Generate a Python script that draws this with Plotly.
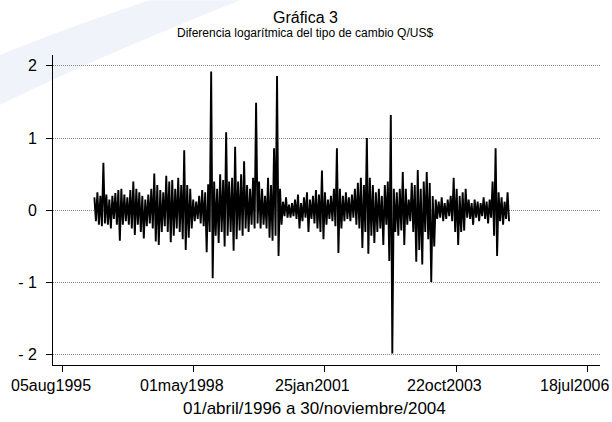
import pandas as pd
import plotly.graph_objects as go

# Envelope of the daily series
upper = [0.18, 0.25, 0.20, 0.66, 0.22, 0.15, 0.20, 0.24, 0.28, 0.30,
         0.22, 0.18, 0.28, 0.40, 0.30, 0.25, 0.20, 0.15, 0.22, 0.30,
         0.51, 0.35, 0.28, 0.25, 0.48, 0.40, 0.42, 0.30, 0.45, 0.35,
         0.83, 0.35, 0.30, 0.15, 0.12, 0.20, 0.28, 0.25, 0.36, 1.92,
         0.40, 0.30, 0.50, 0.42, 1.08, 0.40, 0.45, 0.88, 0.40, 0.50,
         0.68, 0.35, 0.30, 0.45, 1.49, 0.40, 0.30, 0.20, 0.45, 0.35,
         0.86, 1.86, 0.30, 0.12, 0.18, 0.08, 0.10, 0.15, 0.22, 0.10,
         0.18, 0.25, 0.15, 0.20, 0.28, 0.22, 0.55, 0.25, 0.15, 0.20,
         0.30, 0.86, 0.30, 0.20, 0.25, 0.18, 0.22, 0.30, 0.38, 0.45,
         0.35, 1.00, 0.45, 0.35, 0.25, 0.30, 0.20, 0.35, 0.40, 1.32,
         0.30, 0.25, 0.30, 0.53, 0.30, 0.15, 0.38, 0.35, 0.56, 0.30,
         0.40, 0.53, 0.38, 0.20, 0.15, 0.12, 0.18, 0.10, 0.15, 0.20,
         0.45, 0.30, 0.20, 0.25, 0.30, 0.15, 0.10, 0.15, 0.12, 0.10,
         0.18, 0.12, 0.15, 0.40, 0.86, 0.25, 0.18, 0.12, 0.25]
lower = [-0.15, -0.20, -0.22, -0.18, -0.20, -0.25, -0.12, -0.20, -0.42, -0.20,
         -0.15, -0.20, -0.25, -0.34, -0.20, -0.30, -0.39, -0.22, -0.18, -0.25,
         -0.43, -0.48, -0.30, -0.22, -0.30, -0.44, -0.35, -0.25, -0.30, -0.40,
         -0.55, -0.38, -0.25, -0.15, -0.12, -0.18, -0.22, -0.58, -0.30, -0.94,
         -0.35, -0.45, -0.30, -0.50, -0.35, -0.30, -0.56, -0.40, -0.28, -0.35,
         -0.25, -0.30, -0.20, -0.25, -0.18, -0.25, -0.20, -0.25, -0.38, -0.42,
         -0.35, -0.63, -0.20, -0.08, -0.10, -0.10, -0.08, -0.12, -0.25, -0.15,
         -0.10, -0.30, -0.12, -0.18, -0.25, -0.30, -0.40, -0.20, -0.12, -0.15,
         -0.22, -0.59, -0.25, -0.15, -0.12, -0.15, -0.10, -0.20, -0.25, -0.52,
         -0.30, -0.60, -0.35, -0.45, -0.30, -0.25, -0.48, -0.20, -0.70, -1.98,
         -0.30, -0.35, -0.28, -0.48, -0.20, -0.15, -0.30, -0.71, -0.55, -0.75,
         -0.30, -0.40, -0.99, -0.50, -0.12, -0.10, -0.15, -0.12, -0.08, -0.15,
         -0.30, -0.48, -0.30, -0.28, -0.10, -0.12, -0.20, -0.10, -0.15, -0.08,
         -0.12, -0.18, -0.10, -0.35, -0.63, -0.15, -0.20, -0.12, -0.15]

start_date = "1996-04-01"
end_date = "2004-11-30"

tick_dates = ["1995-08-05", "1998-05-01", "2001-01-25", "2003-10-22", "2006-07-18"]
tick_labels = ["05aug1995", "01may1998", "25jan2001", "22oct2003", "18jul2006"]
y_ticks = [-2, -1, 0, 1, 2]
y_labels = ["- 2", "- 1", "0", "1", "2"]

title = "Gráfica 3"
subtitle = "Diferencia logarítmica del tipo de cambio Q/US$"
x_title = "01/abril/1996 a 30/noviembre/2004"

values = [v for pair in zip(upper, lower) for v in pair]
dates = pd.date_range(start_date, end_date, periods=len(values))

FONT = "Liberation Sans, Arial, sans-serif"

fig = go.Figure()
fig.add_trace(go.Scatter(x=dates, y=values, mode="lines",
                         line=dict(color="black", width=1.9),
                         hoverinfo="skip", showlegend=False))

fig.update_layout(
    width=612, height=422,
    margin=dict(l=53, r=12, t=55, b=57),
    paper_bgcolor="white", plot_bgcolor="white",
    font=dict(family=FONT, color="black"),
    showlegend=False,
    xaxis=dict(
        type="date", range=["1995-05-21", "2006-10-25"],
        tickvals=tick_dates, ticktext=["" for _ in tick_labels],
        ticks="outside", ticklen=6, tickcolor="black", tickwidth=1,
        showline=True, linecolor="black", linewidth=1,
        showgrid=False, zeroline=False,
    ),
    yaxis=dict(
        range=[-2.14, 2.15],
        tickvals=y_ticks, ticktext=y_labels,
        ticks="outside", ticklen=6, tickcolor="black", tickwidth=1,
        ticklabelstandoff=6,
        tickfont=dict(size=16, family=FONT, color="black"),
        showline=True, linecolor="black", linewidth=1,
        showgrid=True, gridcolor="#8a8a8a", gridwidth=1, griddash="1px,1px",
        zeroline=False,
    ),
)

# faint watermark swoosh (background of the scanned page)
fig.add_shape(type="path", xref="paper", yref="paper", layer="below",
              path="M -0.097 0.839 Q 0.068 0.984 0.342 1.177 L 0.177 1.177 Q 0.013 1.081 -0.097 1.0 Z",
              fillcolor="rgba(225,233,246,0.5)", line=dict(width=0))

# x tick labels (slightly offset to the left of their ticks, as in the scan)
for d, lab in zip(tick_dates, tick_labels):
    fig.add_annotation(x=d, xref="x", y=0, yref="paper", yanchor="top",
                       yshift=-10, xshift=-12, text=lab, showarrow=False,
                       font=dict(size=16, family=FONT, color="black"))

fig.add_annotation(x=(314 - 53) / 547, xref="paper", y=(365 - 408) / 310, yref="paper",
                   yanchor="middle", text=x_title, showarrow=False,
                   font=dict(size=17, family=FONT, color="black"))
fig.add_annotation(x=(305 - 53) / 547, xref="paper", y=(365 - 17) / 310, yref="paper",
                   yanchor="middle", text=title, showarrow=False,
                   font=dict(size=16, family=FONT, color="black"))
fig.add_annotation(x=(305 - 53) / 547, xref="paper", y=(365 - 33) / 310, yref="paper",
                   yanchor="middle", text=subtitle, showarrow=False,
                   font=dict(size=12, family=FONT, color="black"))

fig.write_html("out.html", config={"displayModeBar": False},
               post_script="document.body.style.margin='0';")
